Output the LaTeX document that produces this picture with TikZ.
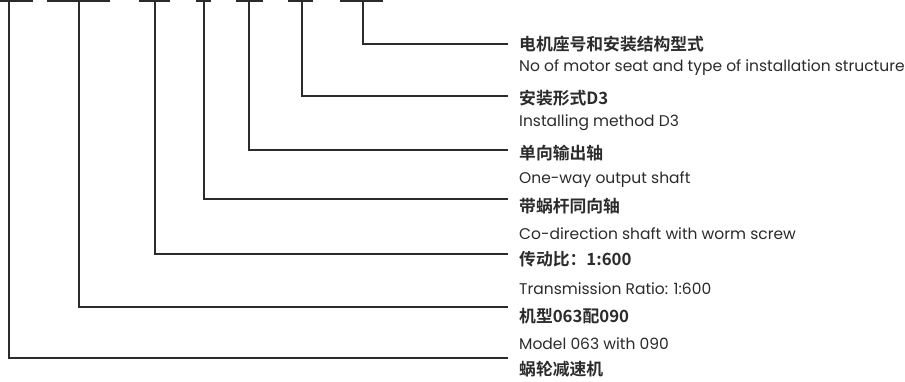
\documentclass[tikz,border=0pt]{standalone}
\usepackage{fontspec}
\setmainfont{Poppins}
\newfontfamily\cjk{Noto Sans CJK SC}[BoldFont={Noto Sans CJK SC Bold}]
\definecolor{ink}{HTML}{2B2B2B}
\tikzset{
  lead/.style={draw=ink, line width=1.4pt, shorten >=11pt},
  bar/.style={draw=ink, line width=2pt},
  cn/.style={anchor=base west, inner sep=0pt, text=ink, font=\cjk\bfseries\fontsize{16.8}{16.8}\selectfont},
  en/.style={anchor=base west, inner sep=0pt, text=ink, font=\fontsize{15.5}{15.5}\selectfont},
}
\begin{document}
\begin{tikzpicture}[x=1pt,y=-1pt]
\useasboundingbox[fill=white] (0,0) rectangle (905,381);
% top bars
\foreach \a/\b in {0/33, 47/110, 139/170, 196/211, 236/263, 288/313, 340/383}
  \draw[bar] (\a,0.5) -- (\b,0.5);
% top anchor coordinates
\coordinate (t1) at (9,0);
\coordinate (t2) at (79,0);
\coordinate (t3) at (155,0);
\coordinate (t4) at (204,0);
\coordinate (t5) at (249,0);
\coordinate (t6) at (302,0);
\coordinate (t7) at (363,0);
% labels
\node[cn] (c7) at (519,50) {电机座号和安装结构型式};
\node[en] (e7) at (519,71) {No of motor seat and type of installation structure};
\node[cn] (c6) at (519,104) {安装形式D3};
\node[en] (e6) at (519,126) {Installing method D3};
\node[cn] (c5) at (519,159) {单向输出轴};
\node[en] (e5) at (519,183) {One-way output shaft};
\node[cn] (c4) at (519,212) {带蜗杆同向轴};
\node[en] (e4) at (519,239) {Co-direction shaft with worm screw};
\node[cn] (c3) at (519,265) {传动比：1:600};
\node[en] (e3) at (519,294) {Transmission Ratio: 1:600};
\node[cn] (c2) at (519,322) {机型063配090};
\node[en] (e2) at (519,349) {Model 063 with 090};
\node[cn] (c1) at (519,375) {蜗轮减速机};
% leaders
\draw[lead] (t7) |- (519,44);
\draw[lead] (t6) |- (519,96);
\draw[lead] (t5) |- (519,150);
\draw[lead] (t4) |- (519,199);
\draw[lead] (t3) |- (519,254);
\draw[lead] (t2) |- (519,307);
\draw[lead] (t1) |- (519,358);
\end{tikzpicture}
\end{document}
